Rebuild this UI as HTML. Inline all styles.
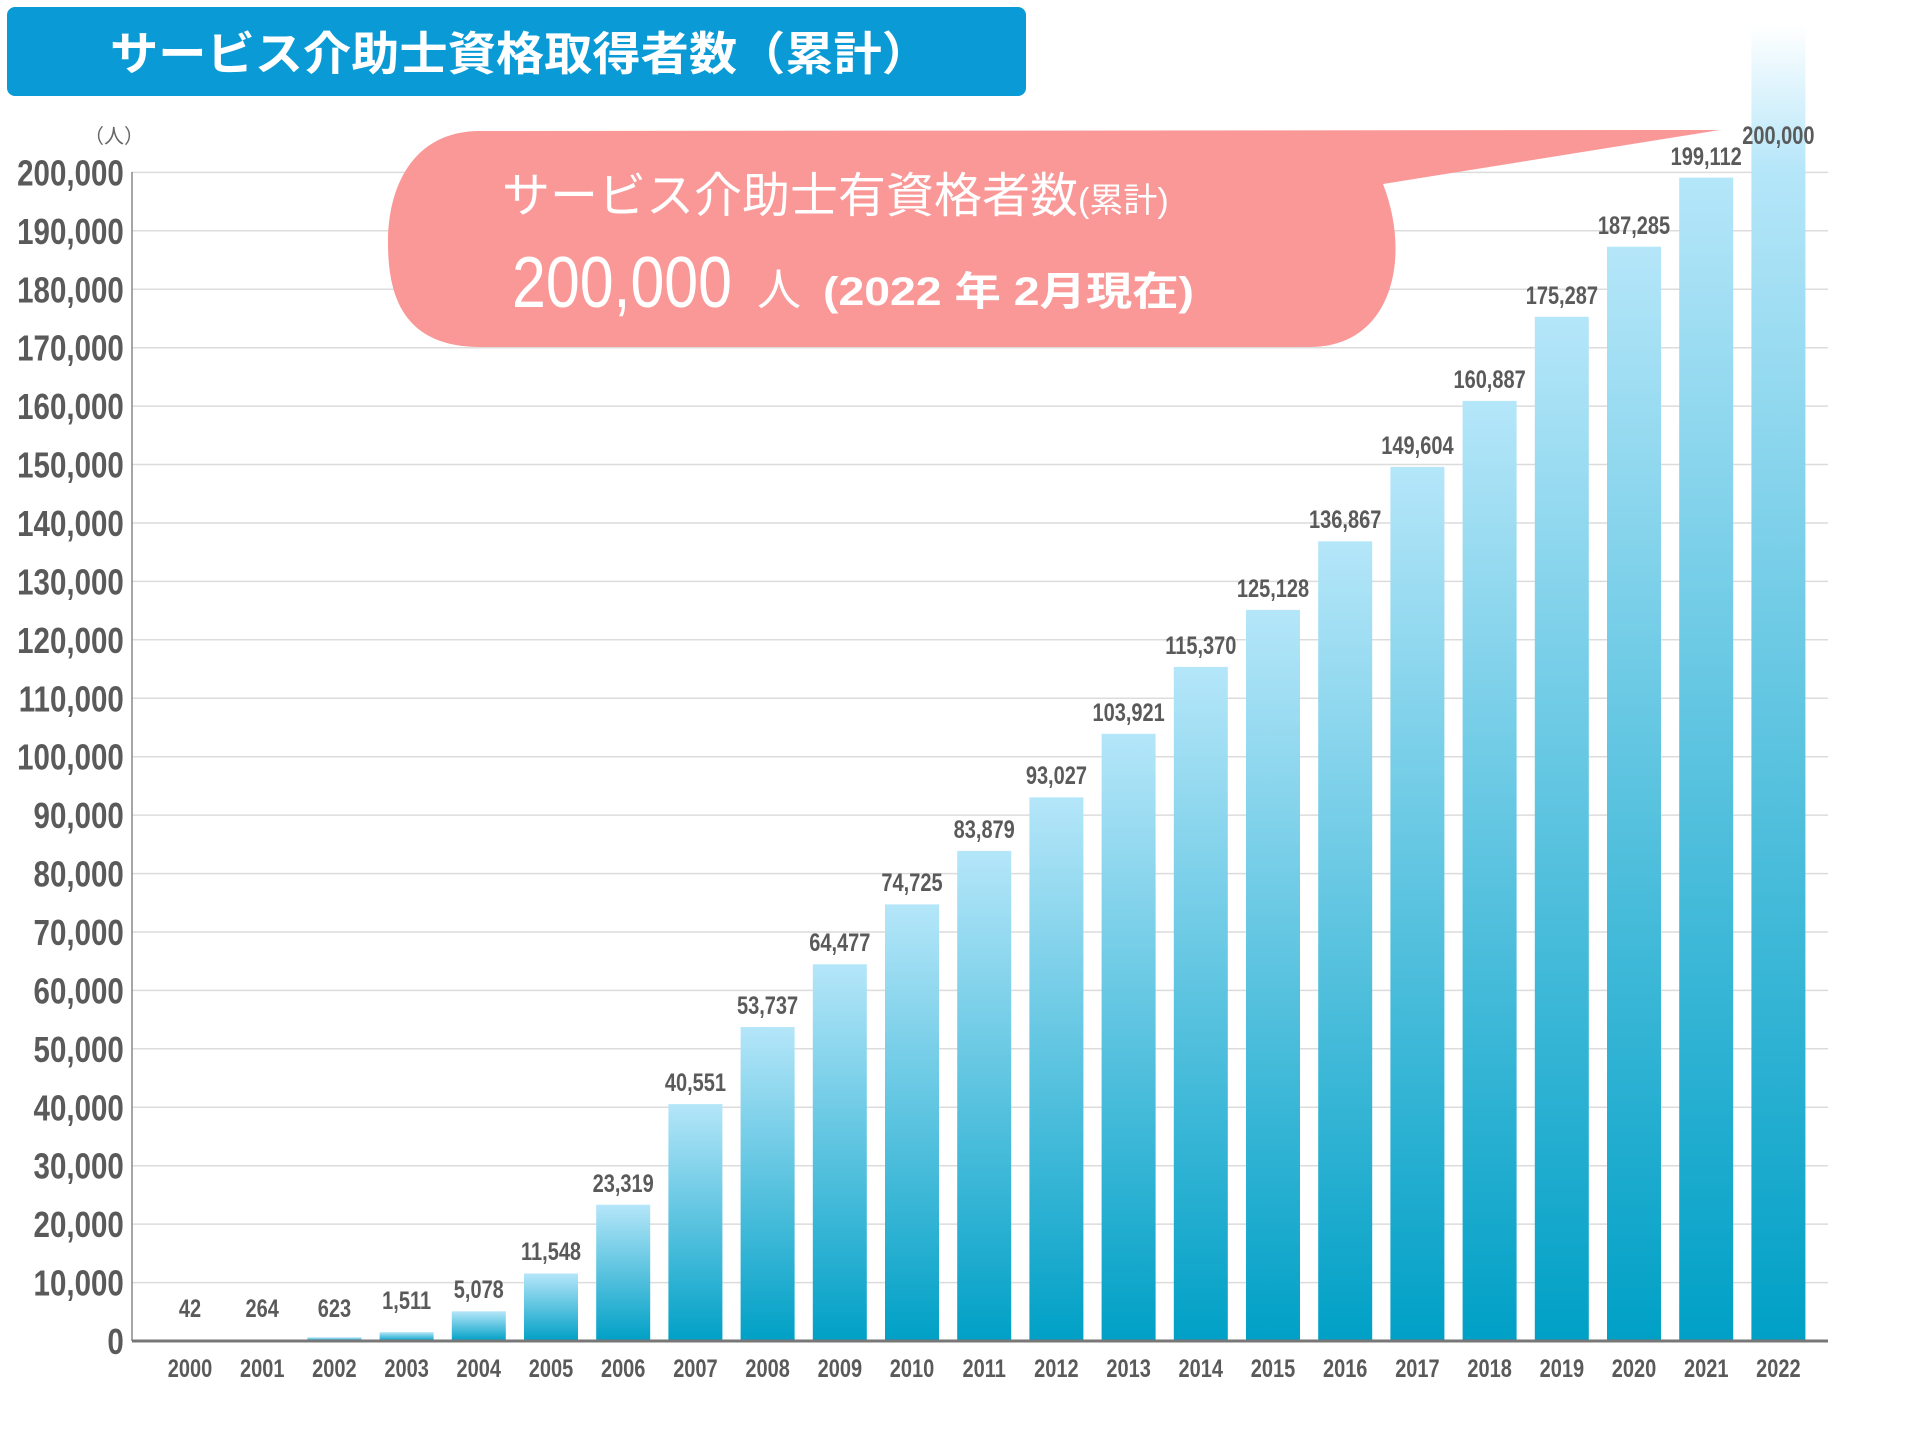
<!DOCTYPE html>
<html><head><meta charset="utf-8"><style>
html,body{margin:0;padding:0;background:#fff;}
svg{display:block;}
.n{font-family:"Liberation Sans","Noto Sans CJK JP",sans-serif;font-weight:bold;fill:#5a5a5a;}
.j{font-family:"Liberation Sans","Noto Sans CJK JP",sans-serif;}
</style></head><body>
<svg width="1920" height="1440" viewBox="0 0 1920 1440" xmlns="http://www.w3.org/2000/svg">
<defs>
<linearGradient id="g" x1="0" y1="0" x2="0" y2="1"><stop offset="0" stop-color="#b5e6f9"/><stop offset="1" stop-color="#00a0c6"/></linearGradient>
<linearGradient id="g2" x1="0" y1="0" x2="0" y2="1"><stop offset="0" stop-color="#ffffff"/><stop offset="0.11" stop-color="#b5e6f9"/><stop offset="1" stop-color="#00a0c6"/></linearGradient>
</defs>
<rect x="7" y="7" width="1019" height="89" rx="8" fill="#0a9bd6"/>
<text x="110" y="70" class="j" font-size="46" fill="#fff" font-weight="bold" textLength="820" lengthAdjust="spacingAndGlyphs">サービス介助士資格取得者数（累計）</text>
<text x="84" y="143" class="j" font-size="20" fill="#666">（人）</text>
<g stroke="#dcdcdc" stroke-width="1.5">
<line x1="132" x2="1828" y1="1282.6" y2="1282.6"/><line x1="132" x2="1828" y1="1224.1" y2="1224.1"/><line x1="132" x2="1828" y1="1165.7" y2="1165.7"/><line x1="132" x2="1828" y1="1107.3" y2="1107.3"/><line x1="132" x2="1828" y1="1048.8" y2="1048.8"/><line x1="132" x2="1828" y1="990.4" y2="990.4"/><line x1="132" x2="1828" y1="932" y2="932"/><line x1="132" x2="1828" y1="873.6" y2="873.6"/><line x1="132" x2="1828" y1="815.1" y2="815.1"/><line x1="132" x2="1828" y1="756.7" y2="756.7"/><line x1="132" x2="1828" y1="698.3" y2="698.3"/><line x1="132" x2="1828" y1="639.8" y2="639.8"/><line x1="132" x2="1828" y1="581.4" y2="581.4"/><line x1="132" x2="1828" y1="523" y2="523"/><line x1="132" x2="1828" y1="464.5" y2="464.5"/><line x1="132" x2="1828" y1="406.1" y2="406.1"/><line x1="132" x2="1828" y1="347.7" y2="347.7"/><line x1="132" x2="1828" y1="289.3" y2="289.3"/><line x1="132" x2="1828" y1="230.8" y2="230.8"/><line x1="132" x2="1828" y1="172.4" y2="172.4"/>
</g>
<g transform="scale(0.82,1)">
<g class="n" font-size="36" text-anchor="end">
<text x="151" y="1354">0</text><text x="151" y="1295.6">10,000</text><text x="151" y="1237.1">20,000</text><text x="151" y="1178.7">30,000</text><text x="151" y="1120.3">40,000</text><text x="151" y="1061.8">50,000</text><text x="151" y="1003.4">60,000</text><text x="151" y="945">70,000</text><text x="151" y="886.6">80,000</text><text x="151" y="828.1">90,000</text><text x="151" y="769.7">100,000</text><text x="151" y="711.3">110,000</text><text x="151" y="652.8">120,000</text><text x="151" y="594.4">130,000</text><text x="151" y="536">140,000</text><text x="151" y="477.5">150,000</text><text x="151" y="419.1">160,000</text><text x="151" y="360.7">170,000</text><text x="151" y="302.3">180,000</text><text x="151" y="243.8">190,000</text><text x="151" y="185.4">200,000</text>
</g>
</g>
<g fill="url(#g)">
<rect x="163" y="1340.8" width="54" height="0.3"/>
<rect x="235.2" y="1339.5" width="54" height="1.5"/>
<rect x="307.4" y="1337.4" width="54" height="3.6"/>
<rect x="379.6" y="1332.2" width="54" height="8.8"/>
<rect x="451.8" y="1311.3" width="54" height="29.7"/>
<rect x="524" y="1273.5" width="54" height="67.5"/>
<rect x="596.2" y="1204.7" width="54" height="136.3"/>
<rect x="668.4" y="1104.1" width="54" height="236.9"/>
<rect x="740.6" y="1027" width="54" height="314"/>
<rect x="812.8" y="964.3" width="54" height="376.7"/>
<rect x="885" y="904.4" width="54" height="436.6"/>
<rect x="957.2" y="850.9" width="54" height="490.1"/>
<rect x="1029.4" y="797.4" width="54" height="543.6"/>
<rect x="1101.6" y="733.8" width="54" height="607.2"/>
<rect x="1173.8" y="666.9" width="54" height="674.1"/>
<rect x="1246" y="609.9" width="54" height="731.1"/>
<rect x="1318.2" y="541.3" width="54" height="799.7"/>
<rect x="1390.4" y="466.9" width="54" height="874.1"/>
<rect x="1462.6" y="400.9" width="54" height="940.1"/>
<rect x="1534.8" y="316.8" width="54" height="1024.2"/>
<rect x="1607" y="246.7" width="54" height="1094.3"/>
<rect x="1679.2" y="177.6" width="54" height="1163.4"/>
</g>
<rect x="1751.4" y="25" width="54" height="1316" fill="url(#g2)"/>
<line x1="132" y1="172" x2="132" y2="1341" stroke="#888" stroke-width="1.5"/>
<line x1="132" y1="1341" x2="1828" y2="1341" stroke="#777" stroke-width="3"/>
<g transform="scale(0.8,1)">
<g class="n" font-size="25" text-anchor="middle">
<text x="237.5" y="1317">42</text><text x="327.8" y="1317">264</text><text x="418" y="1317">623</text><text x="508.3" y="1309">1,511</text><text x="598.5" y="1298">5,078</text><text x="688.8" y="1260">11,548</text><text x="779" y="1192">23,319</text><text x="869.3" y="1091">40,551</text><text x="959.5" y="1014">53,737</text><text x="1049.8" y="951">64,477</text><text x="1140" y="891">74,725</text><text x="1230.3" y="838">83,879</text><text x="1320.5" y="784">93,027</text><text x="1410.8" y="721">103,921</text><text x="1501" y="654">115,370</text><text x="1591.3" y="597">125,128</text><text x="1681.5" y="528">136,867</text><text x="1771.8" y="454">149,604</text><text x="1862" y="388">160,887</text><text x="1952.3" y="304">175,287</text><text x="2042.5" y="234">187,285</text><text x="2132.8" y="165">199,112</text><text x="2223" y="144">200,000</text>
</g>
<g class="n" font-size="25" text-anchor="middle">
<text x="237.5" y="1377">2000</text><text x="327.8" y="1377">2001</text><text x="418" y="1377">2002</text><text x="508.3" y="1377">2003</text><text x="598.5" y="1377">2004</text><text x="688.8" y="1377">2005</text><text x="779" y="1377">2006</text><text x="869.3" y="1377">2007</text><text x="959.5" y="1377">2008</text><text x="1049.8" y="1377">2009</text><text x="1140" y="1377">2010</text><text x="1230.3" y="1377">2011</text><text x="1320.5" y="1377">2012</text><text x="1410.8" y="1377">2013</text><text x="1501" y="1377">2014</text><text x="1591.3" y="1377">2015</text><text x="1681.5" y="1377">2016</text><text x="1771.8" y="1377">2017</text><text x="1862" y="1377">2018</text><text x="1952.3" y="1377">2019</text><text x="2042.5" y="1377">2020</text><text x="2132.8" y="1377">2021</text><text x="2223" y="1377">2022</text>
</g>
</g>
<path d="M480 131 L1720 130 L1383 184 C1412 258 1392 347 1310 347 L480 347 C398 347 388 288 388 242 C388 188 412 131 480 131 Z" fill="#fa9898"/>
<text x="502" y="212" class="j" font-size="48" fill="#fff">サービス介助士有資格者数<tspan font-size="34">(累計)</tspan></text>
<text x="512" y="307" class="j" font-size="72" fill="#fff" textLength="220" lengthAdjust="spacingAndGlyphs">200,000</text>
<text x="757" y="305" class="j" font-size="44" fill="#fff">人</text>
<text x="823" y="305" class="j" font-size="40" font-weight="bold" fill="#fff" textLength="371" lengthAdjust="spacingAndGlyphs">(2022 年 2月現在)</text>
</svg>
</body></html>
